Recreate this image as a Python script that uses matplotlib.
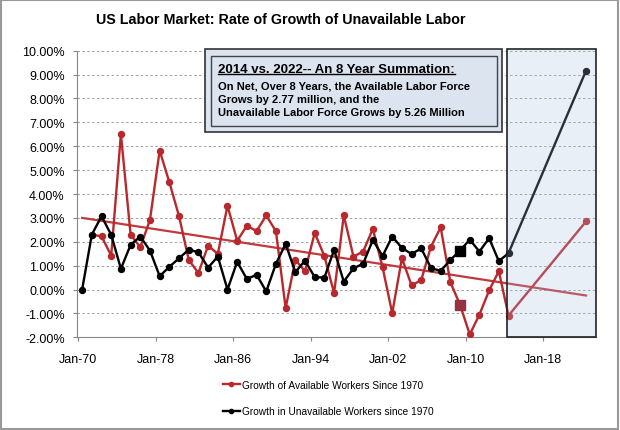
import matplotlib.pyplot as plt
from matplotlib.patches import Rectangle
from matplotlib.lines import Line2D

# Growth rates (%), one value per year
years_black = list(range(1970, 2015)) + [2022]
unavailable = [0.00, 2.30, 3.07, 2.29, 0.87, 1.87, 2.22, 1.63, 0.56, 0.95,
               1.31, 1.67, 1.56, 0.92, 1.38, 0.00, 1.16, 0.44, 0.62, -0.08,
               1.08, 1.91, 0.73, 1.21, 0.52, 0.50, 1.66, 0.33, 0.89, 1.08,
               2.08, 1.40, 2.22, 1.74, 1.49, 1.72, 0.90, 0.78, 1.24, 1.63,
               2.09, 1.59, 2.15, 1.19, 1.52, 9.16]

years_red = list(range(1971, 2015)) + [2022]
available = [2.30, 2.23, 1.42, 6.51, 2.30, 1.77, 2.92, 5.82, 4.49,
             3.07, 1.24, 0.69, 1.84, 1.49, 3.51, 2.04, 2.67, 2.45, 3.10,
             2.44, -0.78, 1.24, 0.77, 2.37, 1.40, -0.15, 3.10, 1.38, 1.59,
             2.54, 0.94, -0.99, 1.31, 0.17, 0.40, 1.80, 2.60, 0.31, -0.64,
             -1.88, -1.05, -0.04, 0.77, -1.09, 2.85]

# linear trend of the available series (end points as drawn)
trend_years = [1970, 2022]
trend_vals = [3.0, -0.25]

highlight_year = 2009
tick_years = [1970, 1978, 1986, 1994, 2002, 2010, 2018]
tick_labels = ['Jan-70', 'Jan-78', 'Jan-86', 'Jan-94', 'Jan-02', 'Jan-10', 'Jan-18']
y_ticks = list(range(-2, 11))

red = '#b8282c'
off = 0.4  # points sit a little after January

plt.rcParams['font.family'] = ['Liberation Sans', 'DejaVu Sans']

fig = plt.figure(figsize=(6.2, 4.31), dpi=100)
fig.patch.set_facecolor('white')
ax = fig.add_axes([77.3 / 620, 92.7 / 431, 518.7 / 620, 286.6 / 431])

xr = [y + off for y in years_red]
xb = [y + off for y in years_black]
ax.plot([y + off for y in trend_years], trend_vals, color='#c0393b', lw=1.6, zorder=2)
ax.plot(xr, available, color=red, lw=1.7, marker='o', ms=4.3, zorder=3,
        label='Growth of Available Workers Since 1970')
ax.plot(xb, unavailable, color='black', lw=1.7, marker='o', ms=4.3, zorder=4,
        label='Growth in Unavailable Workers since 1970')

# square markers for 2009
ax.plot(highlight_year + off, available[years_red.index(highlight_year)], marker='s',
        ms=6.5, color='#963042', zorder=5)
ax.plot(highlight_year + off, unavailable[years_black.index(highlight_year)], marker='s',
        ms=6.5, color='black', zorder=5)

x_right = 2023.43
ax.set_xlim(1969.9, x_right)
ax.set_ylim(-2, 10)

# shaded 2014-2022 window
ax.add_patch(Rectangle((2014.27, -2), x_right - 2014.27, 12.07, facecolor='#a9c0e0',
                       alpha=0.25, edgecolor='none', zorder=6, clip_on=False))
ax.add_patch(Rectangle((2014.27, -2), x_right - 2014.27, 12.07, facecolor='none',
                       edgecolor='#222222', lw=1.2, zorder=7, clip_on=False))

ax.set_yticks(y_ticks)
ax.set_yticklabels(['%.2f%%' % v for v in y_ticks])
ax.set_xticks(tick_years)
ax.set_xticklabels(tick_labels)
ax.tick_params(axis='both', labelsize=9, colors='#888888', labelcolor='black',
               direction='out', length=3)
ax.tick_params(axis='y', pad=6)
ax.tick_params(axis='x', pad=8)
ax.grid(axis='y', color='#a0a0a0', linestyle=(0, (2.5, 2.5)), lw=0.7)
ax.set_axisbelow(True)
for s in ['top', 'right']:
    ax.spines[s].set_visible(False)
for s in ['left', 'bottom']:
    ax.spines[s].set_color('#888888')

fig.text(281 / 620, 1 - 20 / 431, 'US Labor Market: Rate of Growth of Unavailable Labor',
         ha='center', va='center', fontsize=10.3, fontweight='bold')

# annotation box
fig.patches.append(Rectangle((205 / 620, 1 - 133 / 431), 297 / 620, 83 / 431,
                             transform=fig.transFigure, facecolor='#dce4ef',
                             edgecolor='#333333', lw=1.2, zorder=8))
fig.patches.append(Rectangle((211 / 620, 1 - 127 / 431), 286 / 620, 70 / 431,
                             transform=fig.transFigure, facecolor='#dce4ef',
                             edgecolor='#444444', lw=1.0, zorder=9))
t = fig.text(218 / 620, 1 - 73 / 431, '2014 vs. 2022-- An 8 Year Summation:',
             fontsize=9.5, fontweight='bold', va='baseline', zorder=10)
body = ['On Net, Over 8 Years, the Available Labor Force',
        'Grows by 2.77 million, and the',
        'Unavailable Labor Force Grows by 5.26 Million']
for i, line in enumerate(body):
    fig.text(218 / 620, 1 - (86.7 + 13 * i) / 431, line, fontsize=8, fontweight='bold',
             va='center', zorder=10)

fig.canvas.draw()
bb = t.get_window_extent()
fig.lines.append(Line2D([bb.x0 / 620, bb.x1 / 620], [1 - 75 / 431, 1 - 75 / 431],
                        transform=fig.transFigure, color='black', lw=1.0, zorder=10))

handles, labels = ax.get_legend_handles_labels()
fig.legend(handles, labels, loc='upper left', bbox_to_anchor=(222.7 / 620, 1 - 381 / 431),
           frameon=False, fontsize=7.3, handlelength=1.7, handletextpad=0.2,
           labelspacing=1.6, borderpad=0, borderaxespad=0, markerscale=0.7)

# outer frame
fig.patches.append(Rectangle((0.002, 0.003), 0.995, 0.994, transform=fig.transFigure,
                             facecolor='none', edgecolor='#999999', lw=1.5))

fig.savefig('out.png', dpi=100)
